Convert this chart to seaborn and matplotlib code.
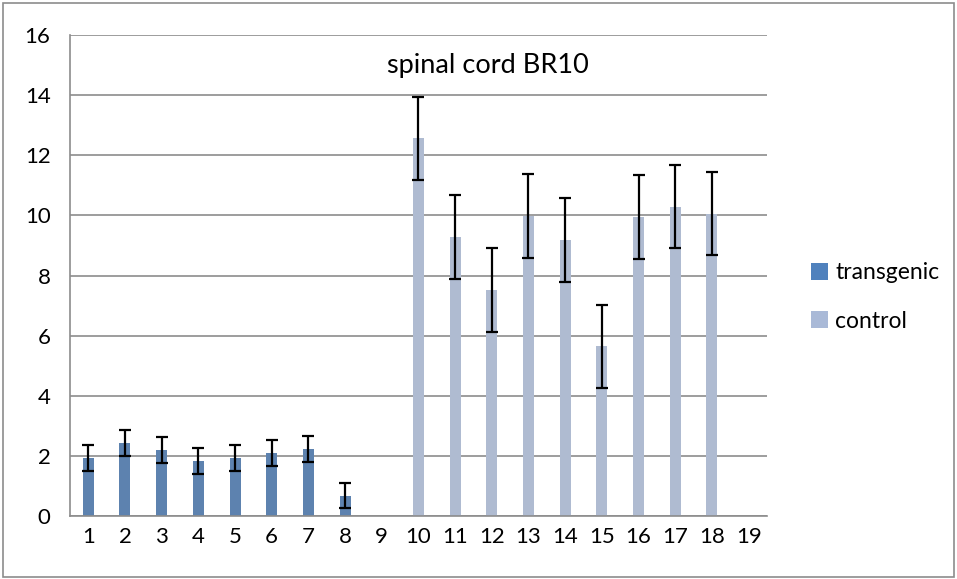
import pandas as pd
import numpy as np
import matplotlib.pyplot as plt
import seaborn as sns
from matplotlib.patches import Rectangle, Patch

# 데이터
categories = [str(i) for i in range(1, 20)]
transgenic_x = ['1', '2', '3', '4', '5', '6', '7', '8']
transgenic_val = [1.94, 2.43, 2.19, 1.83, 1.92, 2.09, 2.24, 0.67]
transgenic_err = [0.43, 0.43, 0.43, 0.43, 0.43, 0.43, 0.43, 0.42]
control_x = ['10', '11', '12', '13', '14', '15', '16', '17', '18']
control_val = [12.56, 9.28, 7.52, 9.98, 9.19, 5.64, 9.94, 10.29, 10.06]
control_err = [1.39, 1.39, 1.39, 1.39, 1.39, 1.39, 1.39, 1.39, 1.39]
series_names = ['transgenic', 'control']
colors = ['#4F81BD', '#A9B9D7']

df = pd.concat([
    pd.DataFrame({'cat': transgenic_x, 'val': transgenic_val, 'err': transgenic_err, 'series': 'transgenic'}),
    pd.DataFrame({'cat': control_x, 'val': control_val, 'err': control_err, 'series': 'control'}),
], ignore_index=True)

sns.set_style('white')
plt.rcParams['font.family'] = ['Lato', 'DejaVu Sans']
plt.rcParams['text.color'] = 'black'
plt.rcParams['xtick.color'] = 'black'
plt.rcParams['ytick.color'] = 'black'

fig = plt.figure(figsize=(9.57, 5.79), dpi=100)
ax = fig.add_axes([0.0731, 0.1088, 0.7283, 0.8307])

sns.barplot(data=df, x='cat', y='val', hue='series', order=categories,
            hue_order=series_names, palette=colors, dodge=False,
            width=0.3, linewidth=0, errorbar=None, legend=False, ax=ax, zorder=2)

# 오차 막대
pos = {c: i for i, c in enumerate(categories)}
xs = [pos[c] for c in df['cat']]
ax.errorbar(xs, df['val'], yerr=df['err'], fmt='none', ecolor='black',
            elinewidth=1.6, capsize=4.3, capthick=1.6, zorder=3)

ax.set_xlim(-0.5, len(categories) - 0.5)
ax.set_ylim(0, 16)
ax.set_yticks(np.arange(0, 17, 2))
ax.set_xlabel('')
ax.set_ylabel('')
ax.yaxis.grid(True, color='#8C8C8C', linewidth=1.2, zorder=0)
ax.set_axisbelow(True)

for s in ['top', 'right']:
    ax.spines[s].set_visible(False)
for s in ['left', 'bottom']:
    ax.spines[s].set_color('#8C8C8C')
    ax.spines[s].set_linewidth(1.2)

# x 눈금: 범주 경계에 눈금선, 라벨은 중앙
ax.set_xticks(np.arange(-0.5, len(categories), 1), minor=False)
ax.set_xticklabels([])
ax.set_xticks(np.arange(len(categories)), minor=True)
ax.set_xticklabels(categories, minor=True)
ax.tick_params(axis='x', which='major', direction='out', length=6, width=1.2, color='#8C8C8C')
ax.tick_params(axis='x', which='minor', length=0, labelsize=16, pad=8)
ax.tick_params(axis='y', direction='out', length=6, width=1.2, color='#8C8C8C', labelsize=16, pad=8)

ax.text(0.6, 0.9376, 'spinal cord BR10', transform=ax.transAxes, ha='center', va='center', fontsize=19.5)

handles = [Patch(facecolor=c, edgecolor='none') for c in colors]
fig.legend(handles, series_names, loc='center left', bbox_to_anchor=(0.826, 0.487),
           frameon=False, fontsize=16.5, handlelength=0.75, handleheight=0.75,
           handletextpad=0.3, labelspacing=1.2)

fig.patches.append(Rectangle((0.003, 0.003), 0.994, 0.992, transform=fig.transFigure,
                             fill=False, edgecolor='#8C8C8C', linewidth=1.2))

fig.savefig('out.png', dpi=100)
